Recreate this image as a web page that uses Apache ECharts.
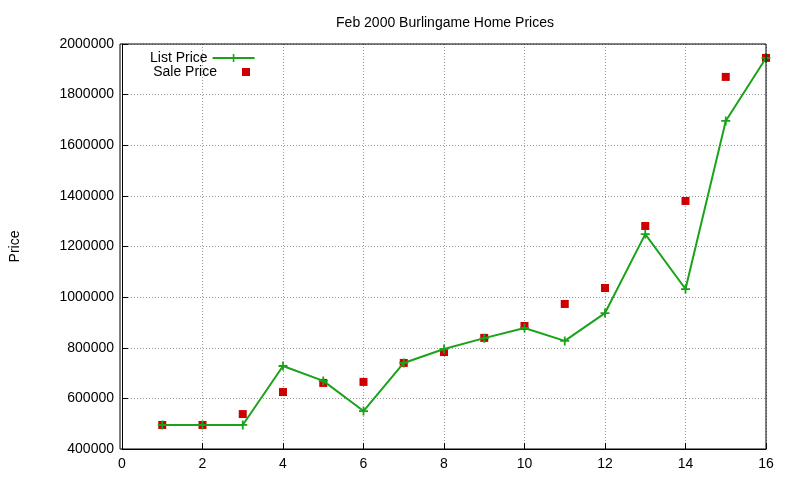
<!DOCTYPE html>
<html>
<head>
<meta charset="utf-8">
<script src="https://cdn.jsdelivr.net/npm/echarts@6/dist/echarts.min.js"></script>
<style>html,body{margin:0;padding:0;background:#fff}#c{width:800px;height:480px}</style>
</head>
<body>
<div id="c"></div>
<script>
// values
var xs = [1, 2, 3, 4, 5, 6, 7, 8, 9, 10, 11, 12, 13, 14, 15, 16];
var listPrice = [495000, 495000, 495000, 728000, 669000, 550000, 740000, 795000, 838000, 878000, 827000, 937000, 1249000, 1032000, 1696000, 1945000];
var salePrice = [495000, 495000, 538000, 625000, 661000, 665000, 740000, 783000, 839000, 886000, 973000, 1036000, 1281000, 1380000, 1870000, 1945000];

var plus = 'path://M4,0H6V4H10V6H6V10H4V6H0V4H4Z';
var chart = echarts.init(document.getElementById('c'));

var gridLine = { show: true, lineStyle: { color: '#999', type: [1, 2], width: 1 } };
var axisLine = { show: true, onZero: false, lineStyle: { color: '#000' } };
var labelStyle = { color: '#000', fontSize: 14, fontFamily: 'Liberation Sans' };

chart.setOption({
  animation: false,
  title: {
    text: 'Feb 2000 Burlingame Home Prices',
    left: 440, top: 11, textAlign: 'center',
    textStyle: { fontSize: 14, fontWeight: 'normal', color: '#000', fontFamily: 'Liberation Sans' }
  },
  legend: {
    orient: 'vertical', left: 145, top: 46, align: 'right',
    itemWidth: 42, itemHeight: 10,
    textStyle: { fontSize: 14, color: '#000', fontFamily: 'Liberation Sans' },
    data: ['List Price']
  },
  grid: { left: 120, right: 34, top: 44, bottom: 31 },
  xAxis: {
    type: 'value', min: 0, max: 16, interval: 2,
    axisLine: axisLine, axisTick: { inside: true, length: 6, lineStyle: { color: '#000' } },
    axisLabel: labelStyle, splitLine: gridLine
  },
  yAxis: {
    type: 'value', min: 400000, max: 2000000, interval: 200000,
    name: 'Price', nameLocation: 'middle', nameGap: 100, nameRotate: 90,
    nameTextStyle: { fontSize: 14, color: '#000', fontFamily: 'Liberation Sans' },
    axisLine: axisLine, axisTick: { inside: true, length: 6, lineStyle: { color: '#000' } },
    axisLabel: Object.assign({ formatter: function (v) { return String(v); } }, labelStyle),
    splitLine: gridLine
  },
  series: [
    {
      name: 'List Price', type: 'line',
      data: xs.map(function (x, i) { return [x, listPrice[i]]; }),
      symbol: plus, symbolSize: 9, showAllSymbol: true,
      lineStyle: { color: '#1aa31a', width: 2 },
      itemStyle: { color: '#1aa31a' }
    },
    {
      name: 'Sale Price', type: 'scatter',
      data: xs.map(function (x, i) { return [x, salePrice[i]]; }),
      symbol: 'rect', symbolSize: 8,
      itemStyle: { color: '#cc0000', opacity: 1 }
    }
  ],
  graphic: [
    {
      type: 'rect', shape: { x: 120, y: 44, width: 646, height: 405 },
      style: { fill: 'none', stroke: '#000', lineWidth: 1 }, silent: true, z: 10
    },
    {
      type: 'text', x: 217, y: 72,
      style: { text: 'Sale Price', fill: '#000', font: '14px "Liberation Sans"', textAlign: 'right', textVerticalAlign: 'middle' }
    },
    {
      type: 'rect', shape: { x: 242, y: 68, width: 8, height: 8 },
      style: { fill: '#cc0000' }
    }
  ]
});
</script>
</body>
</html>
